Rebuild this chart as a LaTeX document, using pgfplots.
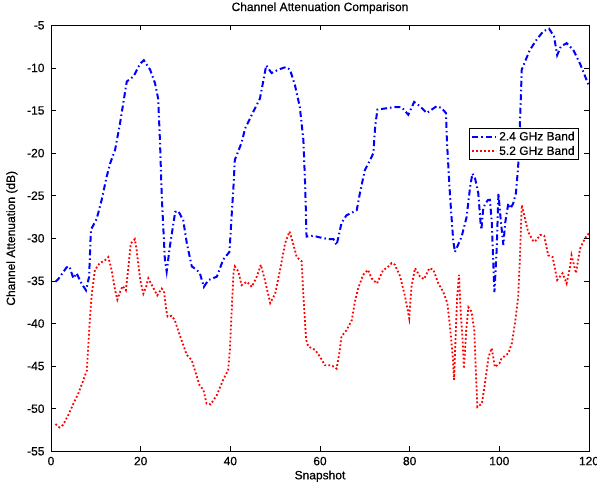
\documentclass[border=0pt]{standalone}
\usepackage{fontspec}
\setmainfont{Liberation Sans}
\newfontfamily\heavy{Liberation Sans}[FakeBold=0.5]
\usepackage{pgfplots}
\pgfplotsset{compat=1.18}
\newcommand\fs{\heavy\fontsize{12bp}{14bp}\selectfont}

\begin{document}
\begin{tikzpicture}
\begin{axis}[
    scale only axis,
    width=538bp, height=426bp,
    xmin=0, xmax=120, ymin=-55, ymax=-5,
    xtick={0,20,...,120},
    ytick={-55,-50,...,-5},
    tick align=inside,
    major tick length=5bp,
    axis line style={line width=0.8bp},
    every tick/.style={black, line width=0.6bp},
    /pgf/number format/assume math mode=true,
    tick label style={font=\fs},
    yticklabel style={xshift=-3bp},
    xticklabel style={yshift=-2bp},
    title={Channel Attenuation Comparison},
    title style={font=\fs, at={(rel axis cs:0.5,1)}, anchor=base, yshift=8.3bp, inner sep=0pt},
    xlabel={Snapshot},
    every axis x label/.style={font=\fs, at={(rel axis cs:0.5,0)}, anchor=base, yshift=-28bp, inner sep=0pt},
    ylabel={Channel Attenuation (dB)},
    every axis y label/.style={font=\fs, at={(rel axis cs:0,0.5)}, xshift=-36bp, rotate=90, anchor=base, inner sep=0pt},
    legend cell align=left,
    legend image code/.code={\draw[#1] (0bp,0bp) -- (24bp,0bp);},
    legend style={font=\fs, at={(rel axis cs:1,1)}, anchor=north east,
        xshift=-10bp, yshift=-102.7bp, draw=black, line width=0.8bp,
        inner xsep=2bp, inner ysep=1bp, row sep=0pt,
        nodes={inner sep=2bp, text height=9bp, text depth=1.5bp}},
]

% 2.4 GHz band
\addplot[blue, line width=2bp, dash pattern=on 6bp off 3bp on 1.5bp off 3bp] coordinates {
(1,-35.1) (1.6,-34.8) (3.5,-33.4) (4.1,-33.3) (5.0,-34.7) (5.7,-34.1) (6.8,-35.3)
(7.8,-36.1) (8.5,-34.5) (8.9,-29.0) (10.2,-27.7) (11.3,-25.5) (12.4,-22.8) (13.2,-21.2)
(14.3,-19.6) (15.4,-16.5) (16.1,-14.2) (16.9,-11.6) (18.4,-11.0) (19.9,-9.5) (20.7,-9.1)
(22.1,-10.2) (23.2,-11.8) (23.9,-13.6) (24.3,-18.5) (24.7,-25.0) (25.4,-32.5) (25.8,-33.9)
(26.5,-31.0) (27.7,-26.9) (28.4,-26.8) (29.5,-27.9) (30.3,-30.6) (31.4,-33.3) (32.5,-33.7)
(33.2,-34.1) (34.1,-35.7) (35.1,-34.9) (37.0,-34.5) (38.4,-32.5) (39.8,-31.6) (40.1,-29.0)
(40.7,-23.9) (41.0,-20.8) (42.5,-18.8) (43.3,-17.1) (44.8,-15.5) (46.6,-13.6) (47.4,-11.4)
(48.0,-9.7) (49.2,-10.6) (50.7,-10.2) (52.4,-9.9) (53.3,-10.2) (54.4,-12.0) (55.5,-14.6)
(56.3,-18.5) (56.7,-23.9) (57.0,-29.8) (58.5,-29.7) (60.0,-29.9) (62.0,-30.1) (63.0,-30.1)
(63.7,-30.8) (64.8,-28.2) (65.9,-27.3) (66.7,-27.1) (68.2,-26.7) (68.9,-24.7) (70.0,-22.0)
(71.2,-20.8) (71.9,-20.0) (72.3,-16.9) (72.8,-14.9) (74.0,-14.8) (76.7,-14.6) (78.2,-14.6)
(79.7,-15.5) (81.0,-14.0) (82.3,-14.5) (83.8,-15.3) (86.0,-14.5) (87.1,-14.7) (88.1,-15.3)
(88.3,-18.5) (89.0,-25.0) (89.7,-30.2) (90.1,-31.6) (91.6,-29.8) (92.7,-27.5) (93.5,-23.9)
(94.0,-22.4) (94.6,-23.0) (95.3,-24.7) (95.8,-28.1) (96.0,-29.0) (96.4,-26.5) (96.9,-25.9)
(97.5,-25.5) (97.9,-25.5) (98.3,-28.0) (98.9,-36.3) (99.4,-31.4) (99.8,-24.7) (100.3,-27.8)
(100.9,-30.8) (101.3,-28.2) (102.0,-25.9) (102.5,-26.5) (103.1,-25.9) (103.7,-24.7) (104.2,-21.6)
(104.6,-16.5) (105.0,-10.2) (105.7,-9.3) (106.8,-7.9) (108.3,-6.7) (109.8,-5.7) (111.1,-5.4)
(112.2,-6.3) (112.9,-8.5) (113.7,-7.5) (115.0,-7.1) (116.5,-7.9) (118.0,-9.5) (119.9,-12.0)
};
\addlegendentry{2.4 GHz Band}

% 5.2 GHz band
\addplot[red, line width=1.8bp, dash pattern=on 1.8bp off 2.2bp] coordinates {
(1,-51.8) (1.9,-52.2) (2.7,-51.9) (3.9,-50.7) (5.0,-49.4) (6.1,-48.2) (7.1,-46.8)
(8.0,-45.5) (8.3,-42.7) (8.7,-39.2) (9.1,-36.5) (9.8,-33.7) (10.9,-32.9) (12.0,-32.6)
(12.8,-32.2) (13.5,-33.7) (14.3,-36.1) (14.8,-37.2) (15.4,-36.3) (16.0,-35.6) (16.7,-36.1)
(17.2,-33.7) (17.8,-30.6) (18.7,-30.1) (19.1,-31.4) (19.9,-34.9) (20.6,-36.5) (21.2,-35.7)
(21.7,-34.7) (22.5,-35.5) (23.7,-36.7) (24.7,-35.9) (25.2,-36.2) (25.7,-38.4) (26.0,-39.2)
(26.9,-39.1) (27.6,-39.6) (28.8,-41.5) (30.3,-43.7) (31.4,-44.3) (32.1,-45.5) (33.1,-47.2)
(34.0,-47.8) (34.7,-49.4) (35.6,-49.5) (37.0,-48.4) (38.4,-46.6) (39.5,-45.5) (39.9,-43.1)
(40.3,-38.4) (40.7,-34.1) (41.0,-33.3) (41.8,-33.9) (42.5,-35.5) (43.7,-35.1) (44.8,-35.7)
(45.9,-34.5) (46.8,-33.1) (47.7,-34.9) (48.9,-37.6) (50.0,-36.5) (51.1,-33.7) (52.2,-30.6)
(53.2,-29.2) (54.0,-30.6) (54.8,-32.2) (55.9,-32.7) (56.3,-36.9) (56.9,-41.9) (57.4,-42.7)
(58.9,-43.1) (60.0,-43.9) (61.1,-44.9) (62.6,-44.9) (63.7,-45.3) (64.3,-43.5) (64.8,-41.5)
(65.9,-40.8) (67.1,-39.6) (67.8,-37.4) (68.5,-35.9) (69.6,-34.3) (70.7,-33.7) (71.5,-34.7)
(72.7,-35.3) (74.1,-33.7) (74.9,-33.5) (76.0,-32.9) (76.7,-33.1) (77.9,-34.5) (79.0,-36.9)
(79.9,-39.4) (80.4,-35.7) (81.2,-33.5) (82.3,-34.5) (83.2,-34.8) (84.4,-33.5) (85.3,-33.7)
(86.4,-35.3) (87.5,-36.3) (88.4,-37.6) (89.0,-40.4) (89.6,-43.9) (89.9,-46.6) (90.3,-40.8)
(90.6,-36.9) (91.0,-34.3) (91.4,-38.8) (91.8,-41.9) (92.1,-45.3) (92.6,-40.8) (93.1,-38.1)
(93.8,-38.6) (94.4,-40.8) (94.8,-46.2) (95.1,-49.8) (96.1,-49.4) (96.8,-47.0) (97.6,-43.9)
(98.3,-42.9) (99.0,-45.1) (100.0,-44.7) (100.5,-44.1) (102.0,-43.5) (102.8,-42.3) (103.5,-39.9)
(104.2,-36.9) (104.6,-32.2) (105.0,-26.1) (106.4,-29.2) (107.6,-30.4) (108.3,-30.2) (109.1,-29.6)
(110.0,-29.7) (110.9,-32.0) (111.9,-32.2) (112.9,-34.9) (114.1,-34.1) (115.0,-35.3) (115.8,-33.3)
(116.1,-32.0) (117.1,-34.1) (118.0,-31.2) (119.1,-30.0) (120,-29.4)
};
\addlegendentry{5.2 GHz Band}

\end{axis}
\pgfresetboundingbox
\path[use as bounding box] (-51bp,-31.7bp) rectangle (546bp,451.3bp);
\end{tikzpicture}
\end{document}
